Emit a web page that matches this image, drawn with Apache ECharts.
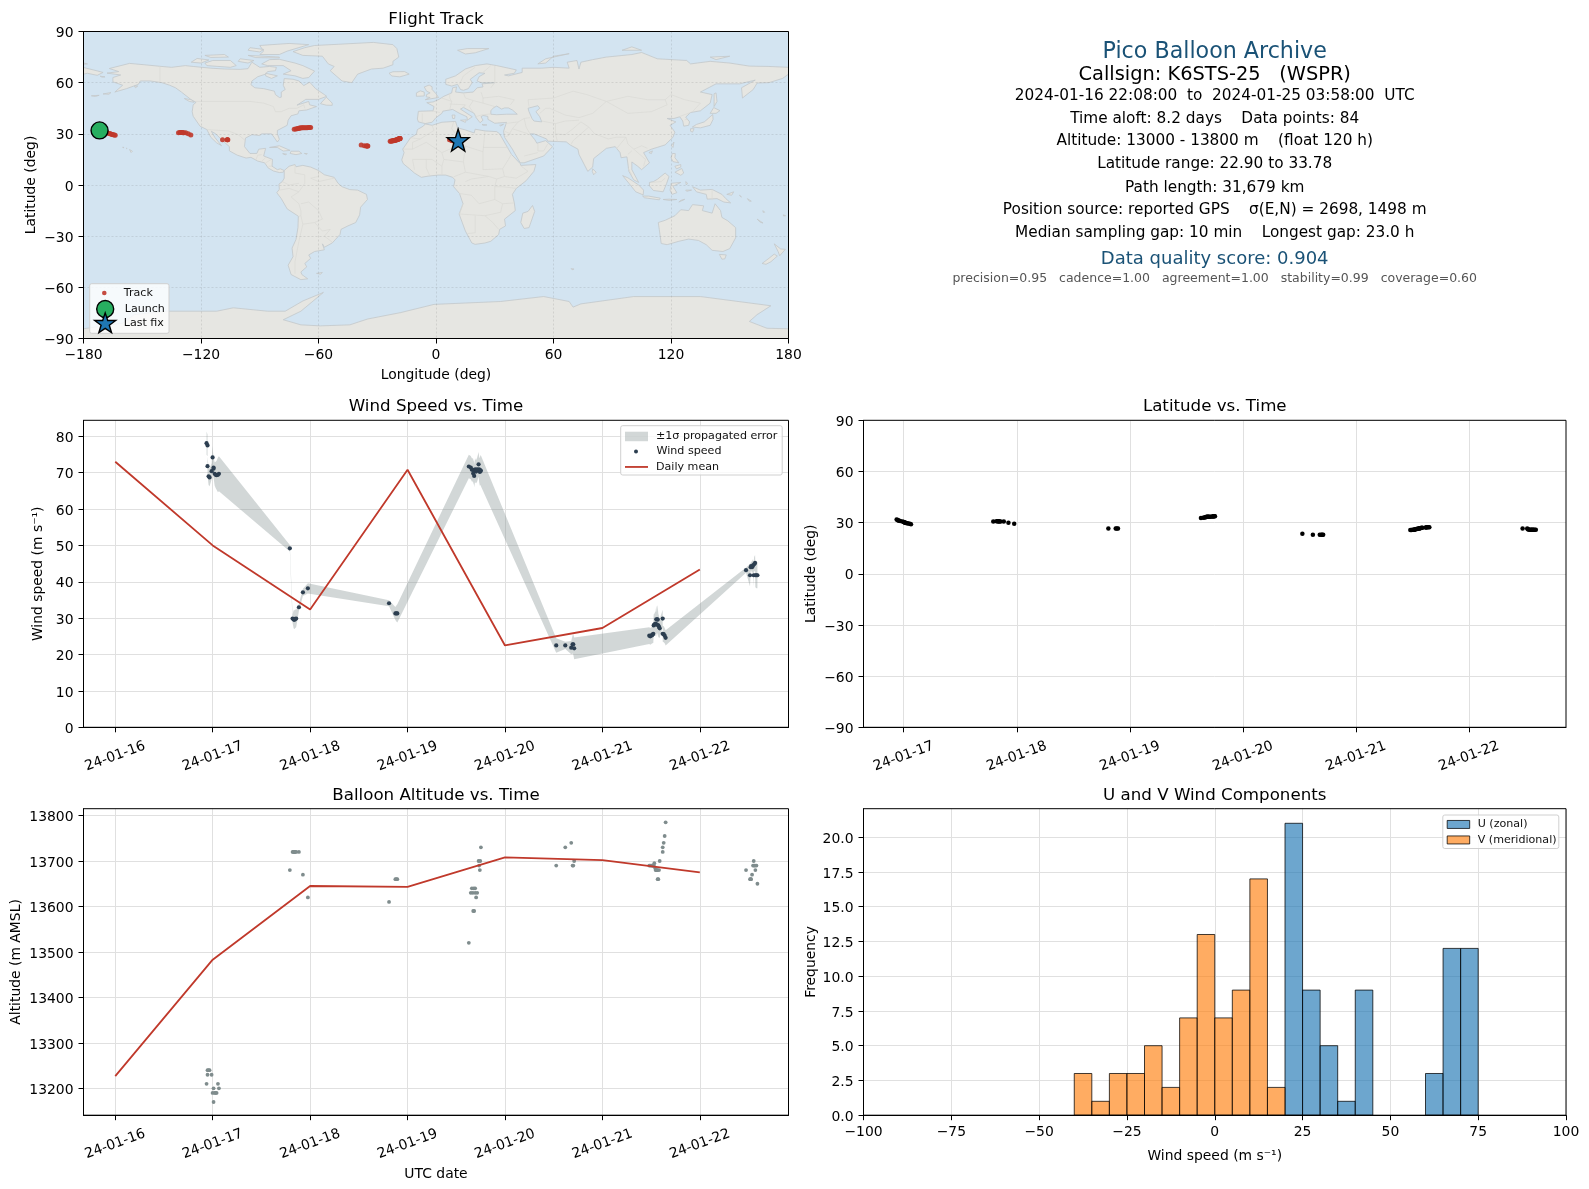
<!DOCTYPE html>
<html><head><meta charset="utf-8">
<style>html,body{margin:0;padding:0;background:#fff}#c{width:1589px;height:1189px}</style>
<script src="https://cdn.jsdelivr.net/npm/echarts@6/dist/echarts.min.js"></script>
</head><body><div id="c"></div>
<script>
// ---------- flight data ----------
const times = [
 16.937,16.947,16.947,16.958,16.968,16.989,16.999,17.009,17.009,17.02,17.03,17.04,17.054,17.064,
 17.792,17.82,17.83,17.835,17.84,17.845,17.857,17.885,17.926,17.977,
 18.81,18.875,18.885,18.895,
 19.629,19.649,19.66,19.67,19.674,19.68,19.684,19.694,19.694,19.704,19.715,19.729,19.735,19.742,19.746,19.753,
 20.526,20.619,20.68,20.694,20.701,20.71,
 21.481,21.491,21.502,21.512,21.515,21.522,21.526,21.533,21.54,21.546,21.553,21.56,21.564,21.567,21.574,21.581,21.588,21.619,21.619,21.629,21.639,21.649,
 22.474,22.515,22.522,22.526,22.536,22.546,22.553,22.557,22.567,22.57,22.581,22.591];
const windSpeed = [
 78.1,77.5,71.8,69.0,68.7,70.4,74.2,71.1,71.4,69.7,69.4,69.3,69.4,69.7,
 49.2,29.9,29.7,29.6,29.6,29.8,29.9,33.0,37.1,38.2,
 34.1,31.3,31.3,31.3,
 71.7,71.4,70.8,70.8,69.8,70.7,69.1,70.9,70.5,70.3,70.9,72.3,70.9,70.2,70.7,70.5,
 22.5,22.5,21.9,22.8,22.8,21.7,
 25.2,25.0,25.2,25.4,25.5,25.7,28.0,28.2,28.4,28.5,29.7,28.2,29.7,29.6,28.0,27.6,27.2,29.9,25.7,25.6,25.2,24.6,
 43.2,41.8,44.0,44.3,44.0,44.5,41.8,44.8,45.2,41.8,41.8,41.8];
const windSigma = [
 3.2,3.0,2.6,2.4,2.4,2.2,3.2,2.8,2.8,3.2,3.6,4.0,4.8,4.8,
 0.9,1.2,2.4,2.6,2.6,2.6,2.4,1.0,1.0,1.4,
 0.8,1.8,2.2,2.5,
 3.2,3.2,3.2,3.2,3.2,3.2,3.2,3.2,3.2,3.2,3.3,3.4,3.5,3.8,4.0,4.2,
 2.0,1.0,1.8,2.5,2.8,3.0,
 2.3,2.3,2.3,2.3,2.4,2.5,3.0,3.0,3.2,3.4,3.8,3.4,3.8,3.8,3.2,3.0,2.6,2.4,2.2,2.2,2.1,2.1,
 0.7,3.1,1.2,1.2,1.6,1.8,3.0,2.0,2.2,3.3,3.6,3.6];
const altitude = [
 13210,13230,13240,13240,13240,13230,13190,13200,13170,13190,13190,13190,13210,13200,
 13680,13720,13720,13720,13720,13720,13720,13720,13670,13620,
 13610,13660,13660,13660,
 13520,13630,13640,13630,13590,13640,13590,13640,13630,13620,13630,13700,13690,13680,13700,13730,
 13690,13730,13740,13690,13690,13700,
 13690,13690,13690,13690,13690,13690,13690,13695,13685,13680,13680,13680,13680,13660,13660,13680,13700,13720,13730,13740,13755,13785,
 13680,13660,13660,13660,13670,13690,13700,13690,13690,13680,13690,13650];
const latitude = [
 31.9,31.6,31.4,31.1,30.9,30.6,30.4,30.2,30.0,29.8,29.6,29.5,29.3,29.1,
 30.6,30.8,30.8,30.8,30.8,30.7,30.6,30.6,30.0,29.3,
 26.5,26.5,26.5,26.5,
 32.7,32.9,33.0,33.2,33.3,33.4,33.4,33.5,33.5,33.5,33.5,33.6,33.6,33.7,33.7,33.78,
 23.5,22.96,22.9,22.9,22.9,22.9,
 25.7,25.7,25.8,25.9,25.9,26.0,26.1,26.2,26.3,26.4,26.5,26.6,26.7,26.7,26.9,27.0,27.0,27.2,27.2,27.3,27.3,27.3,
 26.5,26.5,26.1,26.0,25.9,25.9,25.8,25.8,25.8,25.8,25.8,25.8];
const longitude = [
 -171.8,-171,-170.2,-169.5,-168.8,-168,-167.4,-166.8,-166.3,-165.8,-165.3,-164.8,-164.3,-163.8,
 -131.5,-130.8,-130.4,-130,-129.6,-129.2,-128.8,-127.8,-126.5,-125.2,
 -109,-106.7,-106.5,-106.3,
 -72.4,-71.6,-71,-70.4,-70,-69.6,-69.2,-68.6,-68.2,-67.6,-67,-66.4,-65.8,-65.2,-64.6,-64,
 -38.2,-36.6,-35.6,-35.3,-35,-34.8,
 -23.4,-23,-22.6,-22.2,-22,-21.6,-21.3,-21,-20.7,-20.4,-20.1,-19.9,-19.7,-19.5,-19.3,-19.1,-18.9,-18.7,-18.6,-18.5,-18.4,-18.3,
 6.9,7.6,8,8.4,8.8,9.2,9.6,10,10.3,10.6,11,11.3];
const launchPoint = [-171.8, 32];
const lastFix = [11.3, 26.3];

const meanDays = [16,17,18,19,20,21,22];
const meanWind = [73,50,32.4,70.8,22.5,27.3,43.4];
const meanAlt = [13227,13483,13645,13643,13708,13702,13675];

const dateLabels = {16:'24-01-16',17:'24-01-17',18:'24-01-18',19:'24-01-19',20:'24-01-20',21:'24-01-21',22:'24-01-22'};

const uBins = [20,25,30,35,40,60,65,70];
const uCounts = [21,9,5,1,9,3,12,12];
const vBins = [-40,-35,-30,-25,-20,-15,-10,-5,0,5,10,15];
const vCounts = [3,1,3,3,5,2,7,13,7,9,17,2];
const binWidth = 5;

const lonTicks = [-180,-120,-60,0,60,120,180];
const latTicks = [-90,-60,-30,0,30,60,90];
const windTicks = [0,10,20,30,40,50,60,70,80];
const altTicks = [13200,13300,13400,13500,13600,13700,13800];
const freqTicks = [0,2.5,5,7.5,10,12.5,15,17.5,20];
const histTicks = [-100,-75,-50,-25,0,25,50,75,100];

const infoLines = [
 ['Pico Balloon Archive', 22.2, '#1a5276', 50.6],
 ['Callsign: K6STS-25   (WSPR)', 19.4, '#000', 73],
 ['2024-01-16 22:08:00  to  2024-01-25 03:58:00  UTC', 15.3, '#000', 94.2],
 ['Time aloft: 8.2 days    Data points: 84', 15.3, '#000', 117.5],
 ['Altitude: 13000 - 13800 m    (float 120 h)', 15.3, '#000', 139.8],
 ['Latitude range: 22.90 to 33.78', 15.3, '#000', 163],
 ['Path length: 31,679 km', 15.3, '#000', 186.4],
 ['Position source: reported GPS    σ(E,N) = 2698, 1498 m', 15.3, '#000', 208.7],
 ['Median sampling gap: 10 min    Longest gap: 23.0 h', 15.3, '#000', 232],
 ['Data quality score: 0.904', 18, '#1a5276', 257.3],
 ['precision=0.95   cadence=1.00   agreement=1.00   stability=0.99   coverage=0.60', 12.5, '#555', 277.5]
];

// ---------- world outline (lon, lat) ----------
const landPolygons = [
 // North America
 [[-168,65.6],[-162,66.5],[-166.8,68.3],[-156.5,71.3],[-148,70.4],[-141,69.6],[-135,69],[-128,70],[-124,69.5],[-115,68.5],[-108,68],[-100,67.8],[-96,68.2],[-94,72],[-90,69],[-85,69.5],[-81.5,69],[-82,67],[-86,66.5],[-87,65],[-91,63.5],[-94,61],[-94.5,58.8],[-92.5,57],[-88,56.5],[-82.5,55],[-82,53],[-80,51.3],[-79,51.5],[-79,54.5],[-77,56],[-78,58.5],[-77.5,62.4],[-73,62],[-70,61],[-67.5,58.3],[-64.5,60.3],[-61.5,56.5],[-57,53],[-55.8,52],[-60,50.2],[-66.5,50.2],[-71,46.8],[-65,49],[-64.5,47],[-61,46],[-66,44],[-70,43.5],[-70.5,41.7],[-74,40.6],[-75.5,38],[-76,35],[-81,32],[-81,30],[-80,26.8],[-81,25.2],[-82.7,28],[-84,30],[-89,30],[-90,29],[-94,29.5],[-97.3,27.5],[-97.8,22.5],[-95,18.5],[-91.5,18.5],[-90.5,21],[-87,21.5],[-88,17],[-83.5,15],[-83.7,11],[-81,9],[-79.5,9.5],[-77.5,8.5],[-78,7.5],[-80,7.3],[-83,8.2],[-85.7,10],[-87.5,13],[-91,14],[-94.5,16.2],[-97,15.8],[-101.5,17.5],[-105.5,20],[-105.5,22.5],[-109,26],[-112.5,30],[-114.7,31.5],[-113,28],[-109.5,23],[-112,24.7],[-115,28],[-117,32.5],[-120.5,34.5],[-124,40.3],[-124.5,43],[-124,47],[-122.5,48.5],[-125,50],[-130,54.5],[-133,57],[-136,58.5],[-140,60],[-146,61],[-151,61],[-152,59],[-158,56.5],[-164,54.5],[-160,58.5],[-165,60.5],[-165,63],[-161,64.5]],
 // South America
 [[-77.5,8.5],[-75,11],[-72,12],[-71.5,10.7],[-68,11.5],[-64,10.5],[-60,8.5],[-57,6],[-52,4.5],[-50,1],[-48,-1],[-44,-2.7],[-40,-3],[-35.5,-5.5],[-35,-8.5],[-38.5,-13],[-39,-17.5],[-41,-22],[-45,-24],[-48.5,-26],[-49,-29],[-53,-34],[-57,-36.5],[-58,-34.5],[-57,-38],[-62,-39],[-65,-41],[-64,-43],[-67,-46],[-66,-48],[-69,-51],[-68.5,-52.5],[-65.5,-55],[-69,-55.5],[-74,-52.5],[-75.5,-47],[-73,-42],[-73.5,-37],[-71.5,-32],[-70.5,-25],[-70.3,-18.3],[-76,-14],[-79,-8],[-81.3,-4.5],[-80,-2.5],[-80.2,0.5],[-78.5,2],[-77.5,4],[-77.5,7]],
 // Greenland
 [[-73,78.2],[-67,80.5],[-62,81.8],[-50,82.5],[-32,83.6],[-22,82.3],[-20,80],[-19,75],[-22,72.5],[-22,70.5],[-27,68.5],[-33,68],[-40,65],[-43,60],[-48,61],[-51,64],[-54,67],[-52,69.5],[-55,71],[-58,75.5],[-68,76]],
 // Canadian Arctic and nearby islands
 [[-80,73.7],[-72,71.5],[-68,70],[-62,66.8],[-65,63],[-68,62.5],[-72,64],[-78,65],[-74,67],[-78,70],[-86,70],[-89,71],[-85,73.5]],
 [[-117,70],[-105,69],[-102,70],[-105,73],[-114,73],[-118,71.5]],
 [[-125,72],[-122,74.2],[-116,73.3],[-120,71.5]],
 [[-90,76.5],[-80,76.5],[-76,78.5],[-65,82.3],[-75,83],[-90,81.8],[-88,78.5]],
 [[-96,76],[-80,75],[-80,74.5],[-92,74.7]],
 [[-118,76],[-108,76.5],[-106,75],[-115,74.8]],
 [[-95,80.5],[-88,79.5],[-90,78],[-96,79]],
 [[-100,74],[-93,73],[-96,71.5],[-101,72.5]],
 [[-87,65.5],[-81,64],[-84,62.5],[-87,64]],
 [[-59,47.7],[-56,51.5],[-53,48],[-53,46.7],[-56,46.8]],
 [[-128.5,50.7],[-125,50],[-123.5,48.5],[-126,49]],
 [[-85,22],[-80,23],[-74.5,20.3],[-78,19.9],[-81,22]],
 [[-74,19.8],[-70,19.8],[-68.5,18.5],[-71.5,17.8],[-74.5,18.5]],
 [[-78.3,18.4],[-76.3,18.1],[-77,17.7]],
 [[-67.2,18.5],[-65.7,18.4],[-66,18]],
 [[-156.5,20.8],[-155,19.8],[-155.7,19]],
 [[-160,22.2],[-159.3,22],[-159.8,21.8]],
 [[-158.2,21.6],[-157.7,21.5],[-158,21.3]],
 [[-154,58],[-152.3,58],[-153.5,57]],
 [[-176,52.3],[-172,52.6],[-174,51.9]],
 [[-170,53.4],[-166,54.2],[-167,53.2]],
 [[-171.5,63.8],[-169,63.4],[-170.5,63.2]],
 // Eastern tip of Asia beyond the antimeridian
 [[-180,68.9],[-175,67.5],[-170,66],[-173,64.3],[-178,65.5],[-180,65]],
 [[-180,71.5],[-178,71],[-180,70.8]],
 // Eurasia
 [[-9,37],[-9.5,38.7],[-9,43.2],[-1.5,43.5],[-1,46],[-4.7,48.3],[-1.5,48.7],[1.5,50.2],[4,52],[8,54],[8.5,57],[10.5,57.5],[10,54.5],[14,54],[19,54.5],[21,57],[24,57.5],[23.5,59.3],[30,60],[23,60],[21,61],[22,63.5],[25,65.5],[22,65.8],[17.5,62],[18.5,60],[16.5,56.5],[14,55.5],[12.5,56],[11,59],[8,58],[5,59],[5,62],[10,64],[15,68],[20,70],[26,71],[31,70],[41,67.5],[40,65.5],[35,64.5],[37,64],[44,66],[44,68.5],[54,68.5],[60,69],[68,68.5],[67,72],[72,73],[73,68],[74,72],[80,73.5],[87,75],[100,76.5],[105,77.7],[113,74],[128,73],[130,71],[140,72.5],[150,71.5],[160,69.7],[170,69.5],[180,69],[180,65],[177,62.5],[170,60],[164,59.8],[162,56],[156.5,51],[156,57],[163,61.5],[155,59.3],[143,59.3],[135,54.5],[141,53],[140,48],[135,43.5],[130,42.5],[127.5,39.8],[129.5,37],[129,35],[126.5,34.5],[126,37.5],[124.5,40],[121.5,39],[118,39],[122.5,37],[119.5,35],[122,31],[121,28],[117,23.5],[110,21],[106,19],[109,13],[105,9],[103,11],[100,13.5],[100,9],[103.5,1.5],[101,3],[98.5,8],[97.5,16.5],[94.5,16],[94,19],[91.5,22.5],[87,21.5],[80.5,15.5],[80,10.5],[77.5,8],[73,18],[72.5,21],[68.5,23.5],[66.5,25.3],[57,25.7],[56.5,27],[50,30],[48,30],[50.5,26.5],[51.5,24.5],[56,26],[59.5,22.5],[55,17],[45,13],[43,13],[39,21],[35,28],[34.5,31.5],[36,36.7],[30,36.2],[26.5,38.5],[26.5,40.2],[24,40.8],[23,40],[24,38],[22.5,36.5],[20.5,39.5],[19.5,42],[14,45.5],[12.5,44.5],[18.5,40],[16,38],[15.8,40],[12,42],[8.5,44.3],[3.5,43.3],[3,42],[0,39.5],[-2,36.8],[-5.5,36]],
 // Africa
 [[-5.5,35.8],[-2,35],[3,36.8],[10,37.3],[11,33.5],[15,32.3],[19.5,30.5],[20,32.7],[25,31.7],[31,31.3],[32.5,30],[34,27],[37,21],[38.5,18],[43,12.5],[43.3,11.5],[51,12],[50,8],[46,2.5],[41,-2],[39,-5.5],[40,-10.5],[40.5,-15],[35,-20],[35.5,-24],[32.5,-26],[32,-29],[28,-33],[25,-34],[20,-34.8],[18.3,-34],[15,-27],[11.8,-17],[13.8,-11],[12,-5],[9,-1],[9.7,3],[8.5,4.5],[5,5.8],[1,5.8],[-4,5.2],[-7.5,4.5],[-11,7],[-13.5,9.5],[-16.7,12.5],[-17.5,14.7],[-16.3,19],[-17,21],[-13,27.7],[-10,29.8],[-9.5,32.5],[-6.5,34.5]],
 [[49.3,-12],[50.4,-15.5],[47.5,-25],[45,-25.5],[43.3,-22],[44.3,-16.5],[47,-15.5]],
 // Europe islands
 [[-5.5,50],[1.3,51.3],[0,53.5],[-2,56],[-2,57.6],[-3.5,58.6],[-6,57.5],[-4.8,55],[-3,54],[-4.8,53],[-5,51.7],[-3,51.3]],
 [[-10,52],[-6,52.2],[-6,54.5],[-8,55.2],[-10,54]],
 [[-24,65.5],[-22,66.4],[-16,66.5],[-13.7,65],[-18.5,63.4],[-22.5,63.9]],
 [[11,79],[16,80],[27,80],[20,77.5],[15,76.8]],
 [[52,71],[56,74],[68,77],[60,75.5],[56,71.5]],
 [[95,79],[105,79],[100,81]],
 [[140,75],[150,75.5],[143,73.5]],
 [[32.5,35],[34.5,35.6],[33,34.6]],
 [[23.5,35.5],[26,35.2],[24,35]],
 [[8.2,41],[9.7,41],[9.5,39],[8.5,39]],
 [[12.5,38],[15.5,38.2],[15,36.7]],
 // Asia islands
 [[130.9,34],[135,33.5],[140,35],[141.5,38.5],[141.3,41.3],[140,40],[137,37],[133,35.5]],
 [[130,33],[131.8,33],[131,31],[130,31.5]],
 [[140,42],[141.8,45.4],[145,43.6],[143,42]],
 [[142,46],[143.5,49],[143,54],[142,53.5],[142,49]],
 [[120.2,23],[121.5,25.2],[121,22]],
 [[108.7,19],[110.5,20],[110,18.4]],
 [[80,9.5],[81.8,7.5],[80.5,6],[79.8,8]],
 [[120,16],[120.7,18.5],[122.2,18.4],[122,16],[124,13],[121,13.7]],
 [[122,7.5],[125.5,9.7],[126.5,7],[125,5.7]],
 [[122,11],[125,12],[125,10.5],[122.8,9.5]],
 [[95.3,5.5],[98,4.2],[103.5,0],[106,-3],[105.8,-5.8],[102,-4],[98.5,1]],
 [[105.5,-6.5],[108.5,-6.5],[114.5,-7.7],[114,-8.7],[106.5,-7.5]],
 [[109,1.5],[111,2],[113,3.3],[117,7],[119,5],[117.8,1],[116,-4],[111,-3.2],[109,-0.5]],
 [[120,1],[125,1.5],[121,-0.8],[123,-4.5],[120.5,-5.5],[119.5,-3],[120,0]],
 [[124,-10],[127,-8.4],[125,-9]],
 [[116,-8.5],[119,-8.3],[123,-8.5],[119,-9]],
 [[127.5,-3],[130.5,-3],[128,-3.7]],
 [[127.5,2],[128.5,1],[127.8,0]],
 // New Guinea and Oceania
 [[131,-1],[135,-3],[141,-2.6],[146,-5.5],[148,-8],[150.5,-10.5],[147,-10],[143.5,-8],[138.5,-8.3],[138,-5.5],[133,-4]],
 [[148.5,-5.5],[152,-4],[151,-6]],
 [[155,-6],[156,-7],[155.5,-6.8]],
 [[159,-8],[161,-9.5],[160,-9.5]],
 [[167,-15],[167.8,-16],[167,-16]],
 [[164,-20],[167,-22.3],[165.5,-21.8]],
 [[177.3,-17.5],[178.5,-18],[177.5,-18.2]],
 [[113.5,-22],[114,-26],[115,-34.3],[118,-35],[124,-33],[129,-31.7],[134,-32.5],[138,-35],[141,-38.3],[146.5,-39],[150,-37.3],[153,-31],[153,-25],[149,-21],[146,-19],[145.3,-15],[142.5,-11],[141,-16.5],[136,-15],[136.7,-12.2],[131,-11.5],[129,-15],[125,-14.5],[122,-18],[117,-20.7]],
 [[144.7,-40.7],[148.2,-41],[147.5,-43.3],[146,-43.5]],
 [[172.7,-34.5],[176,-37.5],[178.4,-37.7],[175.5,-41.5],[174.7,-39]],
 [[172.7,-40.5],[174.3,-41.7],[171,-45],[168.5,-46.5],[166.5,-46],[170,-43]],
 [[69,-49],[70.5,-49.3],[69.5,-49.7]],
 [[-61,-51.8],[-58,-51.3],[-59,-52.3]],
 // Antarctica
 [[-180,-84.3],[-160,-81],[-154,-76],[-137.5,-74],[-112,-74],[-103.5,-72],[-86,-74],[-77,-74],[-68,-68],[-57.5,-63],[-69,-74],[-78,-79],[-69,-82],[-59,-82.6],[-44,-82],[-35,-78.6],[-18,-74.8],[-1,-70],[33,-68.3],[55,-65.4],[68,-68.3],[70,-71.6],[74,-69.7],[101,-65.4],[135,-65.4],[171,-70.8],[164,-76],[160,-80],[169,-84],[180,-84.3],[180,-90],[-180,-90]]
];
const waterPolygons = [
 [[28,43.5],[28,41.5],[31,41.2],[36,41.5],[41.5,41.5],[39,44],[37,45.2],[35,45.2],[33.5,44.5],[31,46.3],[29,45]],
 [[47,45],[52,46.5],[53,45],[51,43],[53,40],[54,37],[50,37.5],[49,39],[47.5,43]]
];
const borderLines = [
 [[-141,69.6],[-141,60]],[[-123,49],[-95,49],[-88,48],[-83,46],[-82,43],[-79,43],[-75,45],[-71,45],[-67.5,47],[-67,45]],
 [[-117,32.5],[-106,31.7],[-101,29.5],[-97.3,26]],[[-92,14.7],[-91,17.5],[-89,17.8]],[[-89,14],[-87,16]],[[-87,13],[-84,15]],[[-85.5,11],[-83.7,11]],
 [[-72,12],[-72,7],[-67,6],[-67,1],[-70,-4],[-74,-7],[-70,-11],[-69,-15],[-69,-18],[-70,-18.3]],[[-60,8],[-60,5],[-64,4],[-60,2],[-52,4]],[[-80,-3],[-75,-2],[-70,-4]],[[-78.5,2],[-75,0],[-70,1]],
 [[-69,-18],[-68,-23],[-70,-33],[-72,-45],[-72,-52]],[[-68,-23],[-62,-22],[-58,-20],[-60,-15],[-65,-10],[-69,-11]],[[-62,-22],[-58,-27],[-54,-26],[-57,-30],[-53,-33.5]],
 [[-2,35],[-1,32],[-8,27],[-13,27.7]],[[-8,27],[-12,25],[-12,21],[-17,21]],[[-12,21],[-5,25],[3,19],[12,23.5],[10,30],[8,33],[9,37]],[[12,23.5],[14.5,23],[24,19.5],[25,31.7]],[[24,22],[37,22]],[[24,19.5],[24,9],[34,9.5],[35,5],[41,4],[47,8],[43,11.5]],[[34,9.5],[37,15],[38.5,18]],
 [[3,19],[4,15],[14,13.5],[15,7.5],[9,4.8]],[[14,13.5],[15,23]],[[4,15],[3,11],[3,6.3]],[[-12,15],[-5,15],[-2,15],[3,11]],[[-5,15],[-5,10],[-3,5]],[[-12,15],[-11,9]],[[15,7.5],[27,5],[31,3.5],[35,5]],[[15,2],[18,3.5],[27,5]],[[12,-5],[18,-6],[22,-11],[30,-8.5],[30,-1],[31,3.5]],[[30,-1],[34,-1],[41,-2]],[[30,-8.5],[34,-11],[40,-10.5]],[[13.8,-11],[12,-17],[25,-18],[33,-16],[34,-11]],[[20,-18],[20,-28],[16,-28.5]],[[25,-18],[29,-22],[32,-26]],
 [[2,42.5],[-2,43.4]],[[-7,42],[-7,37]],[[3,51],[8,49],[7,44]],[[7,47.5],[15,47],[14,45.5]],[[7,54],[7,51],[8,49]],[[14,54],[15,51],[19,49.5],[24,48],[24,51],[23,54.5]],[[24,48],[30,46],[28,43.7]],[[19,49.5],[17,46],[19,42.5]],[[23,41],[28,41.7]],[[20,40],[23,41]],
 [[12,59],[14,64],[20,69]],[[24,66],[28,70]],[[30,60],[30,70]],[[28,57],[30,60]],[[24,51],[32,52],[40,50],[38,47]],[[47,50],[60,51],[70,55],[77,53],[87,49],[98,52],[108,50],[117,50],[120,53],[127,50],[135,48],[131,43]],[[47,50],[47.5,46]],[[53,42],[56,45],[58,45],[66,41],[73,39.5],[80,42],[87,49]],[[54,37.5],[61,36],[66,37.5],[73,38]],[[61,36],[61,30],[62,25.5]],[[61,30],[66,29.5],[70,33],[74,37]],[[74,37],[78,34],[74,30],[70,26],[69,23.8]],[[78,34],[81,30],[88,27],[92,28],[97,28],[92,21]],[[97,28],[98,24],[101,21],[105,23],[108,21.5]],[[101,21],[104,18],[107,15],[106,11]],[[98,18],[100,20]],[[98,10],[100,6]],[[87,49],[98,42],[110,43],[118,47],[117,50]],[[124,40],[130,42.5]],[[127,38.3],[128.5,38.5]],
 [[35,36],[42,37],[45,39]],[[45,39],[48,39.5]],[[42,37],[39,33],[47,30]],[[45,39],[46,34],[48,30]],[[35,31.5],[38,30],[37,29]],[[39,33],[37,29],[35,28]],[[52,24],[52,20],[55,20],[57,24]],[[45,17],[52,19]],
 [[141,-2.6],[141,-9]],[[117,4],[115,2],[110,1.5]]
];

// ---------- page layout ----------
const G = [
 {left:83.5, top:31.5,  width:705,   height:307},
 {left:83.5, top:420.3, width:705,   height:307},
 {left:863.5,top:420.3, width:702.5, height:307},
 {left:83.5, top:808.7, width:705,   height:306.5},
 {left:863.5,top:808.7, width:702.5, height:306.5}
];
const FF = 'DejaVu Sans';
const GRID_C = '#e0e0e0';
const STAR = 'path://M50 0 L61.8 35.3 L98.9 35.3 L69.1 57.7 L79.4 91.3 L50 72 L20.6 91.3 L30.9 57.7 L1.1 35.3 L38.2 35.3 Z';
const minus = v => String(v).replace('-', '\u2212');
const dateFmt = v => dateLabels[v] || '';

function mkAxis(gridIndex, pos, min, max, ticks, fmt, name, nameGap, extra) {
  const a = {
    type:'value', gridIndex, position:pos, min, max,
    axisLine:{show:true, onZero:false, lineStyle:{color:'#000', width:1}},
    axisTick:{show:true, length:5, customValues:ticks, lineStyle:{color:'#000', width:1}},
    axisLabel:{show:true, customValues:ticks, formatter:fmt, color:'#000', fontFamily:FF, fontSize:13.9, margin:10, showMinLabel:true, showMaxLabel:true, hideOverlap:false},
    splitLine:{show:true, lineStyle:{color:GRID_C, width:1}},
    name:name||'', nameLocation:'middle', nameGap:nameGap||0,
    nameTextStyle:{color:'#000', fontFamily:FF, fontSize:13.9}
  };
  if (pos === 'left') { a.axisLabel.verticalAlign = 'top'; a.axisLabel.lineHeight = 4; }
  if (extra && extra.rotated) {
    a.axisLabel.rotate = 20; a.axisLabel.align='center'; a.axisLabel.verticalAlign='middle'; a.axisLabel.margin = 29;
  }
  if (extra && extra.mapGrid) {
    a.z = 2;
    a.splitLine.lineStyle = {color:'rgba(110,110,110,0.25)', width:0.7, type:[2,2]};
  }
  return a;
}

const xAxes = [
 mkAxis(0,'bottom',-180,180,lonTicks,minus,'Longitude (deg)',30,{mapGrid:true}),
 mkAxis(1,'bottom',15.674,22.91,meanDays,dateFmt,'',0,{rotated:true}),
 mkAxis(2,'bottom',16.644,22.858,meanDays.slice(1),dateFmt,'',0,{rotated:true}),
 mkAxis(3,'bottom',15.674,22.91,meanDays,dateFmt,'UTC date',52,{rotated:true}),
 mkAxis(4,'bottom',-100,100,histTicks,minus,'Wind speed (m s\u207b\u00b9)',34)
];
const yAxes = [
 mkAxis(0,'left',-90,90,latTicks,minus,'Latitude (deg)',45,{mapGrid:true}),
 mkAxis(1,'left',0,84.4,windTicks,String,'Wind speed (m s\u207b\u00b9)',38),
 mkAxis(2,'left',-90,90,latTicks,minus,'Latitude (deg)',45),
 mkAxis(3,'left',13141,13815,altTicks,String,'Altitude (m AMSL)',60),
 mkAxis(4,'left',0,22.05,freqTicks,v=>v.toFixed(1),'Frequency',45)
];

const zip = (a,b) => a.map((v,i)=>[v,b[i]]);

function polySeries(polys, style, z) {
  return {
    type:'custom', coordinateSystem:'cartesian2d', xAxisIndex:0, yAxisIndex:0, z, silent:true, clip:true,
    data: polys.map((p,i)=>[i,0]),
    renderItem(params, api) {
      const pts = polys[params.dataIndex].map(p=>api.coord(p));
      return {type:'polygon', shape:{points:pts}, style};
    }
  };
}
function lineSetSeries(lines, style, z) {
  return {
    type:'custom', coordinateSystem:'cartesian2d', xAxisIndex:0, yAxisIndex:0, z, silent:true, clip:true,
    data: lines.map((p,i)=>[i,0]),
    renderItem(params, api) {
      const pts = lines[params.dataIndex].map(p=>api.coord(p));
      return {type:'polyline', shape:{points:pts}, style};
    }
  };
}
function histSeries(name, bins, counts, fill) {
  return {
    name, type:'custom', coordinateSystem:'cartesian2d', xAxisIndex:4, yAxisIndex:4, clip:true,
    itemStyle:{color:fill},
    data: bins.map((b,i)=>[b, b+binWidth, counts[i]]),
    encode:{x:[0,1], y:2},
    renderItem(params, api) {
      const p0 = api.coord([api.value(0), api.value(2)]);
      const p1 = api.coord([api.value(1), 0]);
      return {type:'rect', shape:{x:p0[0], y:p0[1], width:p1[0]-p0[0], height:p1[1]-p0[1]},
        style:{fill, stroke:'rgba(0,0,0,0.75)', lineWidth:1}};
    }
  };
}

const BAND = 'rgba(127,140,141,0.35)';
const series = [
 polySeries(landPolygons, {fill:'#e6e6e2', stroke:'#c3c8ca', lineWidth:0.8}, 1),
 polySeries(waterPolygons, {fill:'#d3e4f1', stroke:'#c3c8ca', lineWidth:0.8}, 1),
 lineSetSeries(borderLines, {fill:'none', stroke:'#dadad6', lineWidth:0.7}, 1),
 {name:'Track', type:'scatter', xAxisIndex:0, yAxisIndex:0, data:zip(longitude,latitude), symbolSize:5,
  itemStyle:{color:'#c0392b', opacity:0.9}, z:5},
 {name:'Launch', type:'scatter', xAxisIndex:0, yAxisIndex:0, data:[launchPoint], symbolSize:17,
  itemStyle:{color:'#27ae60', borderColor:'#000', borderWidth:1.4, opacity:1}, z:6},
 {name:'Last fix', type:'scatter', xAxisIndex:0, yAxisIndex:0, data:[lastFix], symbol:STAR, symbolSize:22,
  itemStyle:{color:'#1f77b4', borderColor:'#000', borderWidth:1.4, opacity:1}, z:6},
 {name:'\u00b11\u03c3 propagated error', type:'custom', coordinateSystem:'cartesian2d', xAxisIndex:1, yAxisIndex:1,
  itemStyle:{color:BAND}, silent:true, clip:true, data:[[times[0],windSpeed[0]]],
  renderItem(params, api) {
    const up = times.map((t,i)=>api.coord([t, windSpeed[i]+windSigma[i]]));
    const lo = times.map((t,i)=>api.coord([t, windSpeed[i]-windSigma[i]])).reverse();
    return {type:'polygon', shape:{points:up.concat(lo)}, style:{fill:BAND}};
  }},
 {name:'Wind speed', type:'scatter', xAxisIndex:1, yAxisIndex:1, data:zip(times,windSpeed), symbolSize:4.2,
  itemStyle:{color:'#2c3e50', opacity:1}, z:4},
 {name:'Daily mean', type:'line', xAxisIndex:1, yAxisIndex:1, data:zip(meanDays,meanWind), symbol:'none',
  lineStyle:{color:'#c0392b', width:1.8}, itemStyle:{color:'#c0392b'}, z:5},
 {name:'Latitude', type:'scatter', xAxisIndex:2, yAxisIndex:2, data:zip(times,latitude), symbolSize:4.5,
  itemStyle:{color:'#000', opacity:1}},
 {name:'Altitude', type:'scatter', xAxisIndex:3, yAxisIndex:3, data:zip(times,altitude), symbolSize:3.8,
  itemStyle:{color:'#7f8c8d', opacity:1}},
 {name:'Daily mean altitude', type:'line', xAxisIndex:3, yAxisIndex:3, data:zip(meanDays,meanAlt), symbol:'none',
  lineStyle:{color:'#c0392b', width:1.8}, z:5},
 histSeries('U (zonal)', uBins, uCounts, 'rgba(31,119,180,0.65)'),
 histSeries('V (meridional)', vBins, vCounts, 'rgba(255,127,14,0.65)')
];

// legends: one row each, so every row keeps the marker size of the reference
function legendRow(name, icon, left, yc, w, h, itemStyle, textLeftPad, fontSize) {
  const fs = fontSize || 11.1;
  return {
    data:[{name, icon, itemStyle}], left, top: yc - Math.max(h, fs+2)/2, orient:'horizontal', padding:0,
    itemWidth:w, itemHeight:h, selectedMode:false, z:6,
    textStyle:{color:'#111', fontFamily:FF, fontSize:fs, padding:[0,0,0,textLeftPad||0]}
  };
}
const legends = [
 legendRow('Track','circle',102,294,21,4.6,{color:'#c0392b',opacity:0.9},4),
 legendRow('Launch','circle',96,308.3,21,17,{color:'#27ae60',borderColor:'#000',borderWidth:1.4},4),
 legendRow('Last fix',STAR,94,322.7,21,21,{color:'#1f77b4',borderColor:'#000',borderWidth:1.4},3),
 legendRow('\u00b11\u03c3 propagated error','rect',625,437.5,23,9.5,{color:BAND},3),
 legendRow('Wind speed','circle',634,452.5,23,4,{color:'#2c3e50'},4),
 legendRow('Daily mean','rect',625,468,23,1.8,{color:'#c0392b'},3),
 legendRow('U (zonal)','rect',1446.7,825.5,22.5,8,{color:'rgba(31,119,180,0.65)',borderColor:'rgba(0,0,0,0.75)',borderWidth:1},3),
 legendRow('V (meridional)','rect',1446.7,841,22.5,8,{color:'rgba(255,127,14,0.65)',borderColor:'rgba(0,0,0,0.75)',borderWidth:1},3)
];

// titles and the information panel
const titles = [
 ['Flight Track',0,17.7],['Wind Speed vs. Time',1,405.5],['Latitude vs. Time',2,405.5],
 ['Balloon Altitude vs. Time',3,794],['U and V Wind Components',4,794]
].map(([text,g,yc])=>({text, left:G[g].left+G[g].width/2, top:yc-7, textAlign:'center', padding:0,
  textStyle:{color:'#000', fontFamily:FF, fontSize:16.67, fontWeight:'normal'}}));
infoLines.forEach(([text,fs,color,yc])=>titles.push({text, left:1214.7, top:yc-fs*0.4, textAlign:'center', padding:0,
  textStyle:{color, fontFamily:FF, fontSize:fs, fontWeight:'normal'}}));

// frames and legend boxes
const frames = G.map(g=>({type:'rect', silent:true, z:3, shape:{x:g.left,y:g.top,width:g.width,height:g.height},
  style:{fill:'none', stroke:'#000', lineWidth:1}}));
const box = (x,y,w,h)=>({type:'rect', silent:true, z:4, shape:{x,y,width:w,height:h,r:2},
  style:{fill:'rgba(255,255,255,0.8)', stroke:'#d0d0d0', lineWidth:1}});
const boxes = [box(89.7,283.7,79.3,49.6), box(620.7,425.7,161.5,49.3), box(1442.8,815,116,33.5)];

const chart = echarts.init(document.getElementById('c'), null, {width:1589, height:1189});
chart.setOption({
  backgroundColor:'#fff', animation:false,
  textStyle:{fontFamily:FF},
  title:titles,
  grid:G.map((g,i)=>Object.assign({}, g, {containLabel:false, show:i===0, borderWidth:0, backgroundColor:'#d3e4f1'})),
  xAxis:xAxes, yAxis:yAxes, series, legend:legends,
  graphic:{elements:frames.concat(boxes)}
});
</script></body></html>
